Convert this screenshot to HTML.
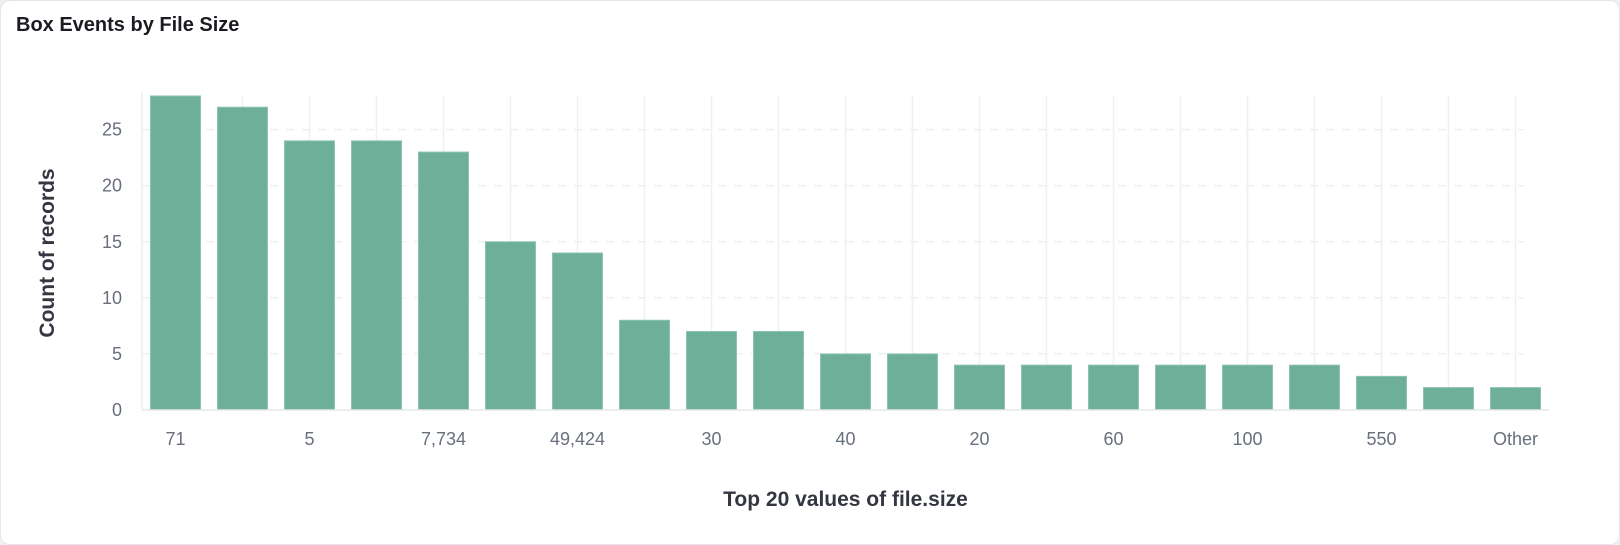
<!DOCTYPE html>
<html><head><meta charset="utf-8"><style>
html,body{margin:0;padding:0;background:#eef0f3;}
#card{position:absolute;left:0;top:0;width:1618px;height:543px;background:#fff;border:1px solid #e3e6eb;border-radius:10px;overflow:hidden;}
#title{position:absolute;left:15px;top:13px;font:bold 20px "Liberation Sans",sans-serif;color:#1a1c21;}
svg{position:absolute;left:0;top:0;}
text{font-family:"Liberation Sans",sans-serif;}
</style></head><body>
<div id="card">
<div id="title">Box Events by File Size</div>
<svg id="chart" width="1620" height="545"></svg>
</div>
<script>
const categories=["71","3,200","5","12","7,734","2,048","49,424","1","30","10","40","15","20","50","60","80","100","256","550","1,024","Other"];
const values=[28,27,24,24,23,15,14,8,7,7,5,5,4,4,4,4,4,4,3,2,2];
const yTicks=[0,5,10,15,20,25];
const yMax=28;
const NS="http://www.w3.org/2000/svg";
const svg=document.getElementById('chart');
const L=141,R=1548,T=95,B=409;
const band=(R-L)/categories.length;
function x(i){return L+band*i;}
function y(v){return B-(v/yMax)*(B-T);}
function mk(tag,attrs,txt){const e=document.createElementNS(NS,tag);for(const k in attrs)e.setAttribute(k,attrs[k]);if(txt!==undefined)e.textContent=txt;svg.appendChild(e);return e;}
yTicks.forEach(t=>{
  if(t>0){const g=mk('line',{x1:L,x2:R-25,y1:y(t),y2:y(t),stroke:'#edeff3','stroke-width':1.5,'stroke-dasharray':'8 8'});
  
  }
  const tl=mk('text',{x:121,y:y(t)+6,'text-anchor':'end','font-size':18,fill:'#69707d'},String(t));
  
  
});
categories.forEach((c,i)=>{
  const g=mk('line',{x1:x(i)+band/2,x2:x(i)+band/2,y1:T,y2:B,stroke:'#eef0f4','stroke-width':1.5});
  
  
});
values.forEach((v,i)=>{
  const b=mk('rect',{x:x(i)+8.5,y:y(v),width:band-17,height:B-y(v),fill:'#6daf98',stroke:'#8cc4b0','stroke-width':1});
  
  
});
const ax=mk('line',{x1:L,x2:R,y1:B,y2:B,stroke:'#e6e8ee','stroke-width':1.5});


const ay=mk('line',{x1:L,x2:L,y1:T-4,y2:B,stroke:'#eceef2','stroke-width':1.5});


categories.forEach((c,i)=>{
  if(i%2)return;
  const t=mk('text',{x:x(i)+band/2,y:444,'text-anchor':'middle','font-size':18,fill:'#69707d'},c);
  
  
});
const xt=mk('text',{x:(L+R)/2,y:505,'text-anchor':'middle','font-size':21,'font-weight':'bold',fill:'#343741'},'Top 20 values of file.size');


const yt=mk('text',{x:0,y:0,'text-anchor':'middle','font-size':21,'font-weight':'bold',fill:'#343741',transform:'translate(53,252) rotate(-90)'},'Count of records');


</script>
</body></html>
